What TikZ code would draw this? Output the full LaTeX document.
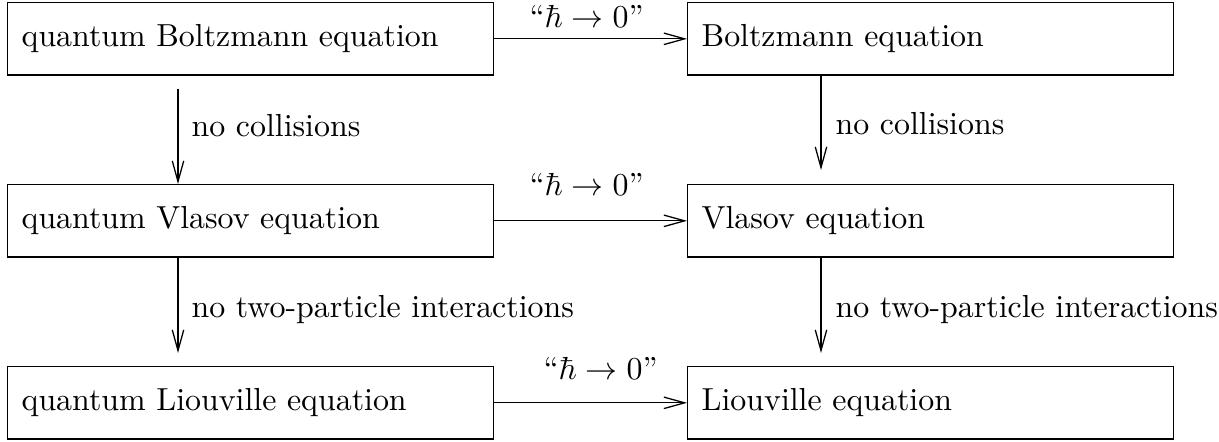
\documentclass[tikz,border=0pt]{standalone}
\usetikzlibrary{arrows.meta,calc}
\begin{document}
\begin{tikzpicture}[x=0.3135pt,y=-0.3135pt,
  eqbox/.style={draw, line width=0.4pt, minimum width=152.4pt, minimum height=22.7pt,
    text width=143.6pt, inner xsep=4.4pt, inner ysep=0pt, align=left, anchor=north west},
  arr/.style={line width=0.4pt, -{Straight Barb[length=6.5pt,width=3.6pt]}},
  lbl/.style={inner sep=0pt, anchor=base west},
  hlbl/.style={inner sep=0pt, anchor=base}]
\useasboundingbox (0,0) rectangle (1219,442);

% quantum column
\node[eqbox] (qb) at (7,2)   {quantum Boltzmann equation};
\node[eqbox] (qv) at (7,184) {quantum Vlasov equation};
\node[eqbox] (ql) at (7,366) {quantum Liouville equation};
% classical column
\node[eqbox] (cb) at (687,2)   {Boltzmann equation};
\node[eqbox] (cv) at (687,184) {Vlasov equation};
\node[eqbox] (cl) at (687,366) {Liouville equation};

% semiclassical limits
\draw[arr] (qb.east) -- (cb.west)
  node[hlbl, midway, xshift=-1.25pt, yshift=3.4pt] (h1) {``$\hbar\to0$''};
\draw[arr] (qv.east) -- (cv.west)
  node[hlbl, midway, xshift=-1.25pt, yshift=7.8pt] (h2) {``$\hbar\to0$''};
\draw[arr] (ql.east) -- (cl.west)
  node[hlbl, midway, xshift=3.1pt, yshift=7.2pt] (h3) {``$\hbar\to0$''};

% simplifications, quantum side
\draw[arr] ($(qb.south west)+(171,13)$) -- ($(qv.north west)+(171,0)$);
\draw[arr] ($(qv.south west)+(171,0)$) -- ($(ql.north west)+(171,-13)$);
\node[lbl] (n1) at (191,137) {no collisions};
\node[lbl] (n2) at (191,318) {no two-particle interactions};

% simplifications, classical side
\draw[arr] ($(cb.south west)+(134,0)$) -- ($(cv.north west)+(134,-14)$);
\draw[arr] ($(cv.south west)+(134,0)$) -- ($(cl.north west)+(134,-13)$);
\node[lbl] (n3) at (835,135) {no collisions};
\node[lbl] (n4) at (835,318) {no two-particle interactions};
\end{tikzpicture}
\end{document}
